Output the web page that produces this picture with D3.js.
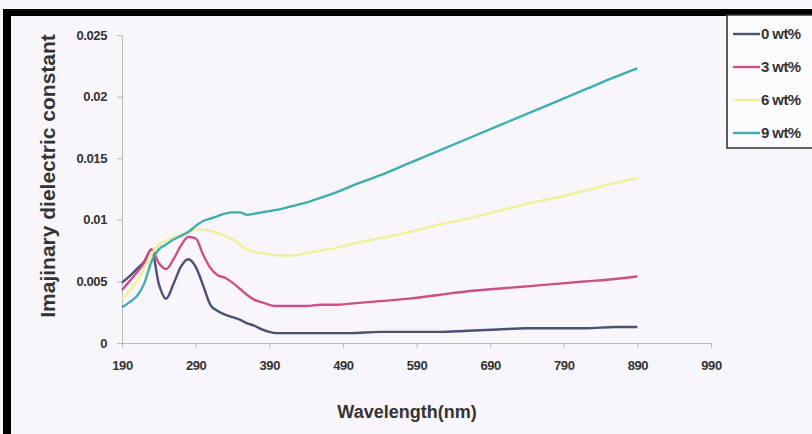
<!DOCTYPE html>
<html lang="en">
<head>
<meta charset="utf-8">
<title>Imajinary dielectric constant</title>
<script src="https://d3js.org/d3.v7.min.js" charset="utf-8"></script>
<style>
  html, body { margin: 0; padding: 0; background: #f8f6fa; overflow: hidden; }
  svg { display: block; }
  .tick text { font: bold 13px "Liberation Sans", Arial, sans-serif; fill: #333; letter-spacing: -0.4px; }
  .axis-title { font: bold 21px "Liberation Sans", Arial, sans-serif; fill: #333; }
  .x-title { font-size: 18px; }
  .legend text { font: bold 15px "Liberation Sans", Arial, sans-serif; fill: #333; letter-spacing: -0.6px; }
</style>
</head>
<body>
<svg class="canvas"></svg>
<script type="text/javascript">

// wavelengths (nm) shared by all series
var wavelengths = [190,200,210,220,230,240,250,260,270,280,290,300,310,320,330,340,350,360,370,380,390,400,
                   420,440,460,480,500,540,580,620,660,700,740,780,820,860,890];

var wt0 = [0.0049,0.0054,0.0060,0.0066,0.0076,0.0048,0.0036,0.0048,0.0062,0.0068,0.0062,0.0047,0.0031,0.0026,0.0023,0.0021,0.0019,0.0016,0.0014,0.0011,0.0009,0.0008,
           0.0008,0.0008,0.0008,0.0008,0.0008,0.0009,0.0009,0.0009,0.0010,0.0011,0.0012,0.0012,0.0012,0.0013,0.0013];
var wt3 = [0.0043,0.0050,0.0057,0.0065,0.0076,0.0065,0.0060,0.0068,0.0079,0.0086,0.0085,0.0072,0.0061,0.0055,0.0053,0.0049,0.0044,0.0039,0.0035,0.0033,0.0031,0.0030,
           0.0030,0.0030,0.0031,0.0031,0.0032,0.0034,0.0036,0.0039,0.0042,0.0044,0.0046,0.0048,0.0050,0.0052,0.0054];
var wt6 = [0.0036,0.0042,0.0050,0.0060,0.0072,0.0080,0.0083,0.0086,0.0088,0.0090,0.0092,0.0092,0.0091,0.0089,0.0087,0.0084,0.0080,0.0076,0.0074,0.0073,0.0072,0.0071,
           0.0071,0.0073,0.0075,0.0077,0.0080,0.0085,0.0090,0.0096,0.0101,0.0107,0.0113,0.0118,0.0124,0.0130,0.0134];
var wt9 = [0.0029,0.0033,0.0038,0.0048,0.0066,0.0076,0.0080,0.0084,0.0087,0.0090,0.0095,0.0099,0.0101,0.0103,0.0105,0.0106,0.0106,0.0104,0.0105,0.0106,0.0107,0.0108,
           0.0111,0.0114,0.0118,0.0122,0.0127,0.0136,0.0146,0.0156,0.0166,0.0176,0.0186,0.0196,0.0206,0.0216,0.0223];

var seriesNames = ['0 wt%', '3 wt%', '6 wt%', '9 wt%'];
var seriesValues = [wt0, wt3, wt6, wt9];
var colours = ['#4b5172', '#cc4f86', '#f0f09a', '#3eaeae'];

var xTicks = [190, 290, 390, 490, 590, 690, 790, 890, 990];
var yTicks = [0, 0.005, 0.01, 0.015, 0.02, 0.025];

(function () {
  var width = 812, height = 434;

  var svg = d3.select('.canvas')
      .attr('width', width)
      .attr('height', height);

  svg.append('rect').attr('width', width).attr('height', height).attr('fill', '#f8f6fa');

  // black frame remains of the scanned figure
  svg.append('rect').attr('x', 3).attr('y', 9).attr('width', width - 3).attr('height', 7).attr('fill', '#000');
  svg.append('rect').attr('x', 3).attr('y', 9).attr('width', 8).attr('height', height - 9).attr('fill', '#000');

  var x = d3.scaleLinear().domain([190, 990]).range([122, 711]);
  var y = d3.scaleLinear().domain([0, 0.025]).range([343, 35]);

  var xAxis = svg.append('g')
      .attr('transform', 'translate(0,' + y(0) + ')')
      .call(d3.axisBottom(x).tickValues(xTicks).tickFormat(d3.format('d')).tickSize(5).tickPadding(13));
  var yAxis = svg.append('g')
      .attr('transform', 'translate(' + x(190) + ',0)')
      .call(d3.axisLeft(y).tickValues(yTicks).tickFormat(function (d) { return d === 0 ? '0' : String(+d.toFixed(3)); }).tickSize(5).tickPadding(10));

  [xAxis, yAxis].forEach(function (g) {
    g.select('.domain').attr('stroke', '#bbb');
    g.selectAll('.tick line').attr('stroke', '#bbb');
  });

  var line = d3.line()
      .x(function (d) { return x(d[0]); })
      .y(function (d) { return y(d[1]); })
      .curve(d3.curveMonotoneX);

  seriesValues.forEach(function (vals, i) {
    svg.append('path')
      .datum(wavelengths.map(function (w, j) { return [w, vals[j]]; }))
      .attr('fill', 'none')
      .attr('stroke', colours[i])
      .attr('stroke-width', 2.4)
      .attr('d', line);
  });

  svg.append('text')
      .attr('class', 'axis-title')
      .attr('text-anchor', 'middle')
      .attr('transform', 'translate(55,176) rotate(-90)')
      .text('Imajinary dielectric constant');

  svg.append('text')
      .attr('class', 'axis-title x-title')
      .attr('text-anchor', 'middle')
      .attr('x', 407).attr('y', 418)
      .text('Wavelength(nm)');

  // legend (box runs off the right edge of the picture)
  var legend = svg.append('g').attr('class', 'legend');
  legend.append('rect')
      .attr('x', 727).attr('y', 15).attr('width', 85).attr('height', 133)
      .attr('fill', '#fbfafc');
  legend.append('path')
      .attr('d', 'M812,15H727V148H812')
      .attr('fill', 'none').attr('stroke', '#333').attr('stroke-width', 1.6);
  seriesNames.forEach(function (name, i) {
    var ly = 34 + i * 33;
    legend.append('line')
      .attr('x1', 733).attr('x2', 760).attr('y1', ly).attr('y2', ly)
      .attr('stroke', colours[i]).attr('stroke-width', 2.4);
    legend.append('text')
      .attr('x', 761).attr('y', ly + 5)
      .text(name);
  });
})();

</script>
</body>
</html>
